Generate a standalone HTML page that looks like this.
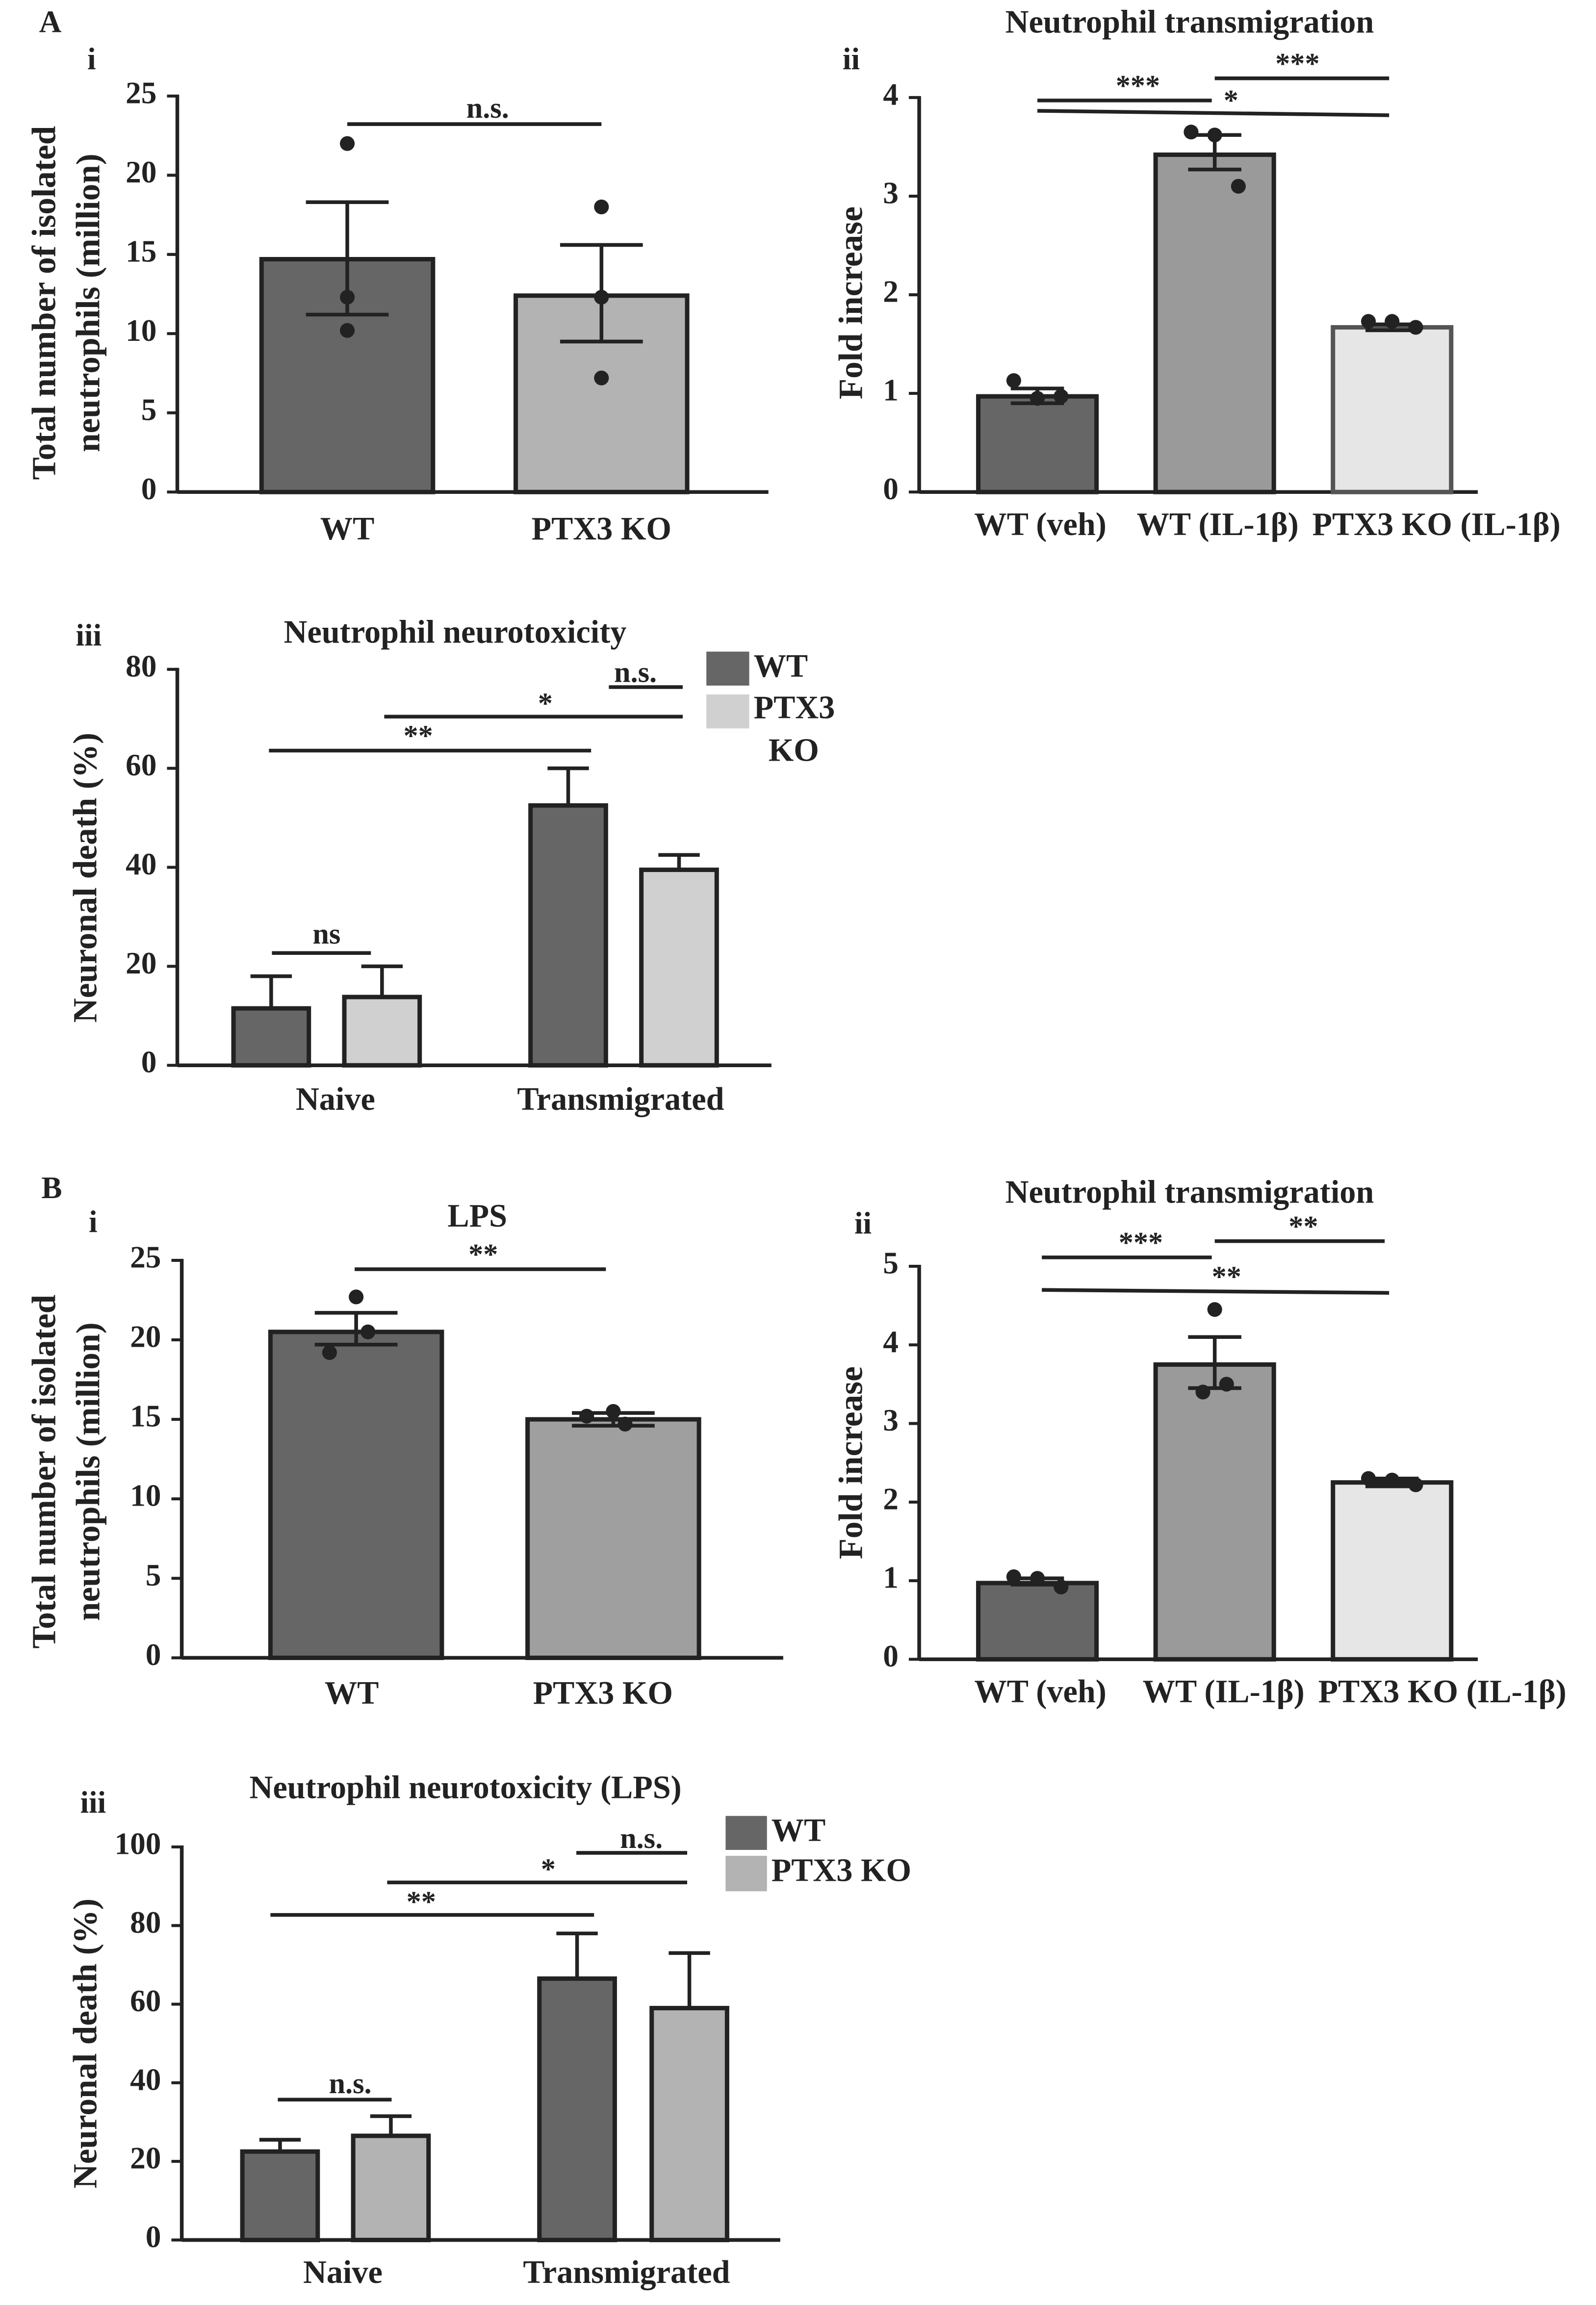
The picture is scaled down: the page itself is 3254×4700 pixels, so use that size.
<!DOCTYPE html>
<html><head><meta charset="utf-8"><style>
html,body{margin:0;padding:0;background:#fff}
svg{display:block}
text{font-family:"Liberation Serif",serif;font-weight:bold;fill:#222}
</style></head><body>
<svg id="fig" width="3254" height="4700" viewBox="0 0 1080 1560" preserveAspectRatio="none" xmlns="http://www.w3.org/2000/svg"></svg>
<script>
// ---- data ----
const aiCats = ["WT","PTX3 KO"];
const aiVals = [14.7, 12.4];
const aiErrLo = [11.2, 9.5];
const aiErrHi = [18.3, 15.6];
const aiPts = [[22, 12.3, 10.2],[18, 12.3, 7.2]];
const aiTicks = [0,5,10,15,20,25];

const aiiCats = ["WT (veh)","WT (IL-1β)","PTX3 KO (IL-1β)"];
const aiiVals = [0.97, 3.42, 1.67];
const aiiErrLo = [0.9, 3.27, 1.64];
const aiiErrHi = [1.05, 3.62, 1.70];
const aiiPts = [[1.13,0.95,0.97],[3.65,3.62,3.1],[1.73,1.73,1.67]];
const aiiTicks = [0,1,2,3,4];

const aiiiGroups = ["Naive","Transmigrated"];
const aiiiWT = [11.5, 52.5];
const aiiiKO = [13.8, 39.5];
const aiiiWTerr = [18, 60];
const aiiiKOerr = [20, 42.5];
const aiiiTicks = [0,20,40,60,80];

const biCats = ["WT","PTX3 KO"];
const biVals = [20.5, 15.0];
const biErrLo = [19.7, 14.6];
const biErrHi = [21.7, 15.4];
const biPts = [[22.7,20.5,19.2],[15.5,14.7,15.2]];
const biTicks = [0,5,10,15,20,25];

const biiCats = ["WT (veh)","WT (IL-1β)","PTX3 KO (IL-1β)"];
const biiVals = [0.97, 3.75, 2.25];
const biiErrLo = [0.95, 3.45, 2.2];
const biiErrHi = [1.03, 4.1, 2.3];
const biiPts = [[1.05,1.03,0.92],[4.45,3.5,3.4],[2.3,2.28,2.22]];
const biiTicks = [0,1,2,3,4,5];

const biiiGroups = ["Naive","Transmigrated"];
const biiiWT = [22.5, 66.5];
const biiiKO = [26.5, 59];
const biiiWTerr = [25.5, 78];
const biiiKOerr = [31.5, 73];
const biiiTicks = [0,20,40,60,80,100];

// ---- helpers ----
const NS="http://www.w3.org/2000/svg";
const svg=document.getElementById('fig');
function el(tag,attrs,parent){const e=document.createElementNS(NS,tag);for(const k in attrs)e.setAttribute(k,attrs[k]);(parent||svg).appendChild(e);return e;}
function txt(x,y,s,size,anchor,name,parent,rot){
  const t=el('text',{x:x,y:y,'font-size':size,'text-anchor':anchor||'middle','dominant-baseline':'middle'},parent);
  if(rot)t.setAttribute('transform','rotate(-90 '+x+' '+y+')');
  t.textContent=s;
  
  
  return t;}
function line(x1,y1,x2,y2,w,parent){return el('line',{x1:x1,y1:y1,x2:x2,y2:y2,stroke:'#222','stroke-width':w||2.5},parent);}

function axes(g,ax,x2,y0,y1,ticks,maxV){
  const sy=v=>y0-(y0-y1)*v/maxV;
  line(ax,y1-1,ax,y0,2.5,g);line(ax,y0,x2,y0,2.5,g);
  ticks.forEach(t=>{line(ax-7,sy(t),ax,sy(t),2,g);txt(ax-14,sy(t),String(t),21,'end','y-tick-label',g);});
  return sy;}

function bar(g,x,w,v,sy,fill,stroke,name){
  const r=el('rect',{x:x,y:sy(v),width:w,height:sy(0)-sy(v),fill:fill,stroke:stroke||'#222','stroke-width':3},g);
  
  }
function err(g,cx,lo,hi,sy,cap){line(cx,sy(lo),cx,sy(hi),2.5,g);line(cx-cap,sy(hi),cx+cap,sy(hi),2.5,g);}
function err2(g,cx,lo,hi,sy,cap){line(cx,sy(lo),cx,sy(hi),2.5,g);line(cx-cap,sy(hi),cx+cap,sy(hi),2.5,g);line(cx-cap,sy(lo),cx+cap,sy(lo),2.5,g);}
function dots(g,cx,pts,sy,offs){pts.forEach((p,i)=>{const c=el('circle',{cx:cx+offs[i],cy:sy(p),r:5,fill:'#222'},g);
  
  });}
function sig(g,x1,y1,x2,y2,label,tx,ty){line(x1,y1,x2,y2,2.5,g);txt(tx,ty,label,20,'middle','significance-label',g);}

function panel(name){const g=el('g',{});return g;}

// ---- panel labels ----
txt(34,17,'A',21,'middle','panel-label-a');
txt(35,806,'B',21,'middle','panel-label-b');

// ---- A-i ----
(function(){
  const g=panel('panel-a-i');
  txt(62,42,'i',21,'middle','subpanel-label',g);
  const sy=axes(g,120,520,333,65,aiTicks,25);
  const xs=[177,349],w=116,fills=['#666','#b3b3b3'];
  aiVals.forEach((v,i)=>{bar(g,xs[i],w,v,sy,fills[i],'#222','bar-'+i);err2(g,xs[i]+w/2,aiErrLo[i],aiErrHi[i],sy,28);dots(g,xs[i]+w/2,aiPts[i],sy,[0,0,0]);
    txt(xs[i]+w/2,360,aiCats[i],22,'middle','x-tick-label',g);});
  sig(g,235,84,407,84,'n.s.',330,75);
  txt(32,205,'Total number of isolated',23,'middle','y-axis-title',g,true);
  txt(62,205,'neutrophils (million)',23,'middle','y-axis-title',g,true);
})();

// ---- A-ii ----
(function(){
  const g=panel('panel-a-ii');
  txt(576,42,'ii',21,'middle','subpanel-label',g);
  txt(805,17,'Neutrophil transmigration',22,'middle','chart-title',g);
  const sy=axes(g,622,1000,333,66,aiiTicks,4);
  const xs=[662,782,902],w=80,fills=['#666','#9a9a9a','#e6e6e6'],strokes=['#222','#222','#555'];
  const tx=[704,824,972];
  aiiVals.forEach((v,i)=>{bar(g,xs[i],w,v,sy,fills[i],strokes[i],'bar-'+i);err2(g,xs[i]+w/2,aiiErrLo[i],aiiErrHi[i],sy,18);dots(g,xs[i]+w/2,aiiPts[i],sy,[-16,0,16]);
    txt(tx[i],357,aiiCats[i],22,'middle','x-tick-label',g);});
  sig(g,702,68,820,68,'***',770,60);
  sig(g,822,53,940,53,'***',878,45);
  sig(g,702,75,940,78,'*',833,70);
  txt(578,205,'Fold increase',23,'middle','y-axis-title',g,true);
})();

function grouped(name,ax,x2,y0,y1,ticks,maxV,wt,ko,wtE,koE,groups,xsWT,xsKO,w,lightFill,groupX,labelY){
  const g=panel(name);
  const sy=axes(g,ax,x2,y0,y1,ticks,maxV);
  wt.forEach((v,i)=>{bar(g,xsWT[i],w,v,sy,'#666','#222','bar-wt-'+i);err(g,xsWT[i]+w/2,v,wtE[i],sy,14);});
  ko.forEach((v,i)=>{bar(g,xsKO[i],w,v,sy,lightFill,'#222','bar-ko-'+i);err(g,xsKO[i]+w/2,v,koE[i],sy,14);});
  groups.forEach((s,i)=>txt(groupX[i],labelY,s,22,'middle','x-tick-label',g));
  return g;}

// ---- A-iii ----
(function(){
  const g=grouped('panel-a-iii',120,522,721,453,aiiiTicks,80,aiiiWT,aiiiKO,aiiiWTerr,aiiiKOerr,aiiiGroups,[158,359],[233,434],51,'#d0d0d0',[227,420],746);
  txt(60,432,'iii',21,'middle','subpanel-label',g);
  txt(308,430,'Neutrophil neurotoxicity',22,'middle','chart-title',g);
  txt(60,594,'Neuronal death (%)',23,'middle','y-axis-title',g,true);
  el('rect',{x:478,y:441,width:29,height:23,fill:'#666'},g);
  el('rect',{x:478,y:470,width:29,height:23,fill:'#d0d0d0'},g);
  txt(510,453,'WT',22,'start','legend-entry-wt',g);
  txt(510,481,'PTX3',22,'start','legend-entry-ptx3ko',g);
  txt(520,510,'KO',22,'start','legend-entry-ptx3ko',g);
  sig(g,184,645,251,645,'ns',221,634);
  sig(g,182,508,400,508,'**',283,500);
  sig(g,260,485,462,485,'*',369,478);
  sig(g,412,465,462,465,'n.s.',430,457);
})();

// ---- B-i ----
(function(){
  const g=panel('panel-b-i');
  txt(63,829,'i',21,'middle','subpanel-label',g);
  txt(323,825,'LPS',22,'middle','chart-title',g);
  const sy=axes(g,123,530,1122,853,biTicks,25);
  const xs=[183,357],w=116,fills=['#666','#9f9f9f'];
  const tx=[238,408];
  biVals.forEach((v,i)=>{bar(g,xs[i],w,v,sy,fills[i],'#222','bar-'+i);err2(g,xs[i]+w/2,biErrLo[i],biErrHi[i],sy,28);dots(g,xs[i]+w/2,biPts[i],sy,[0,8,-18]);
    txt(tx[i],1148,biCats[i],22,'middle','x-tick-label',g);});
  sig(g,240,859,410,859,'**',327,851);
  txt(32,996,'Total number of isolated',23,'middle','y-axis-title',g,true);
  txt(62,996,'neutrophils (million)',23,'middle','y-axis-title',g,true);
})();

// ---- B-ii ----
(function(){
  const g=panel('panel-b-ii');
  txt(584,830,'ii',21,'middle','subpanel-label',g);
  txt(805,809,'Neutrophil transmigration',22,'middle','chart-title',g);
  const sy=axes(g,622,1000,1123,857,biiTicks,5);
  const xs=[662,782,902],w=80,fills=['#666','#9a9a9a','#e6e6e6'],strokes=['#222','#222','#222'];
  const tx=[704,828,976];
  biiVals.forEach((v,i)=>{bar(g,xs[i],w,v,sy,fills[i],strokes[i],'bar-'+i);err2(g,xs[i]+w/2,biiErrLo[i],biiErrHi[i],sy,18);dots(g,xs[i]+w/2,biiPts[i],sy,i===1?[0,8,-8]:[-16,0,16]);
    txt(tx[i],1147,biiCats[i],22,'middle','x-tick-label',g);});
  sig(g,705,851,820,851,'***',772,843);
  sig(g,822,840,937,840,'**',882,832);
  sig(g,705,873,940,875,'**',830,866);
  txt(578,990,'Fold increase',23,'middle','y-axis-title',g,true);
})();

// ---- B-iii ----
(function(){
  const g=grouped('panel-b-iii',123,528,1516,1250,biiiTicks,100,biiiWT,biiiKO,biiiWTerr,biiiKOerr,biiiGroups,[164,365],[239,441],51,'#b3b3b3',[232,424],1540);
  txt(63,1222,'iii',21,'middle','subpanel-label',g);
  txt(315,1212,'Neutrophil neurotoxicity (LPS)',22,'middle','chart-title',g);
  txt(60,1383,'Neuronal death (%)',23,'middle','y-axis-title',g,true);
  el('rect',{x:491,y:1229,width:28,height:23,fill:'#666'},g);
  el('rect',{x:491,y:1256,width:28,height:24,fill:'#b3b3b3'},g);
  txt(522,1241,'WT',22,'start','legend-entry-wt',g);
  txt(522,1268,'PTX3 KO',22,'start','legend-entry-ptx3ko',g);
  sig(g,188,1421,265,1421,'n.s.',237,1412);
  sig(g,183,1296,402,1296,'**',285,1289);
  sig(g,262,1274,465,1274,'*',371,1267);
  sig(g,390,1254,465,1254,'n.s.',434,1246);
})();
</script>
</body></html>
